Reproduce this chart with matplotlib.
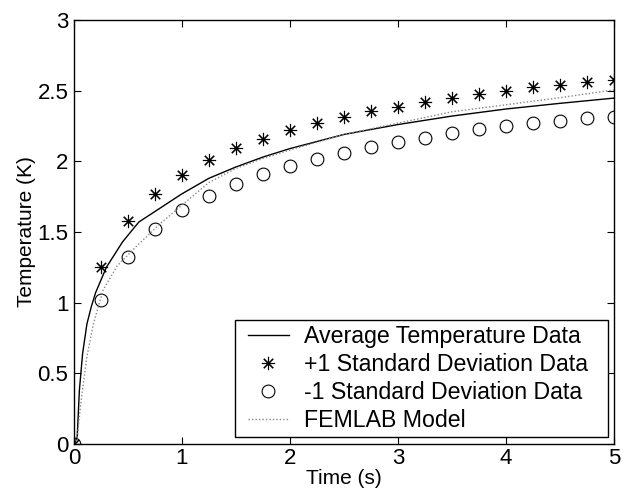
import numpy as np
import matplotlib.pyplot as plt
from matplotlib.lines import Line2D
from matplotlib.legend_handler import HandlerLine2D

plt.rcParams['font.family'] = ['Liberation Sans', 'DejaVu Sans']

# Messpunkte (Mittelwert +/- 1 Standardabweichung), alle 0.25 s
t_pts = [0, 0.25, 0.5, 0.75, 1.0, 1.25, 1.5, 1.75, 2.0, 2.25, 2.5,
         2.75, 3.0, 3.25, 3.5, 3.75, 4.0, 4.25, 4.5, 4.75, 5.0]
plus_sd = [0, 1.255, 1.578, 1.767, 1.904, 2.008, 2.092, 2.161, 2.220, 2.270, 2.316,
           2.357, 2.387, 2.423, 2.451, 2.475, 2.500, 2.524, 2.541, 2.564, 2.576]
minus_sd = [0, 1.019, 1.326, 1.519, 1.656, 1.755, 1.838, 1.909, 1.967, 2.016, 2.062,
            2.102, 2.135, 2.168, 2.199, 2.227, 2.251, 2.274, 2.288, 2.305, 2.316]

# Mittlere Temperatur (durchgezogene Linie)
t_avg = [0, 0.03, 0.05, 0.08, 0.12, 0.16, 0.2, 0.3, 0.45, 0.6, 0.8, 1.0,
         1.25, 1.5, 1.75, 2.0, 2.5, 3.0, 3.5, 4.0, 4.5, 5.0]
avg = [0, 0.05, 0.38, 0.64, 0.85, 0.97, 1.07, 1.25, 1.43, 1.57, 1.67, 1.77,
       1.88, 1.96, 2.03, 2.09, 2.19, 2.26, 2.32, 2.37, 2.41, 2.447]

# FEMLAB-Modell (gepunktet)
t_fem = [0, 0.03, 0.07, 0.12, 0.18, 0.27, 0.4, 0.58, 0.8, 1.0, 1.25, 1.5,
         1.75, 2.0, 2.5, 3.0, 3.5, 4.0, 4.5, 5.0]
fem = [0, 0.05, 0.33, 0.62, 0.85, 1.09, 1.26, 1.40, 1.56, 1.69, 1.85, 1.95,
       2.02, 2.08, 2.19, 2.27, 2.35, 2.40, 2.45, 2.505]

fig = plt.figure(figsize=(6.29, 4.96), dpi=100)
ax = fig.add_axes([0.1176, 0.1048, 0.8585, 0.855])

ax.plot(t_avg, avg, color="black", lw=1.0, label="Average Temperature Data")
ax.plot(t_pts, plus_sd, ls="none", marker=(8, 2, 0), ms=9.5, mec="black", mew=0.8,
        color="black", label="+1 Standard Deviation Data")
ax.plot(t_pts, minus_sd, ls="none", marker="o", ms=9.2, mfc="none", mec="black", mew=0.8,
        label="-1 Standard Deviation Data")
ax.plot(t_fem, fem, color="#888888", lw=1.0, ls=(0, (1, 1.5)), label="FEMLAB Model")

ax.set_xlim(0, 5)
ax.set_ylim(0, 3)
ax.set_xticks([0, 1, 2, 3, 4, 5])
ax.set_yticks([0, 0.5, 1, 1.5, 2, 2.5, 3])
ax.set_yticklabels(["0", "0.5", "1", "1.5", "2", "2.5", "3"])
ax.tick_params(direction="in", top=True, right=True, length=5, width=0.8,
               labelsize=16)
ax.tick_params(axis="x", pad=3)
ax.tick_params(axis="y", pad=4)
for s in ax.spines.values():
    s.set_linewidth(1.0)

ax.set_xlabel("Time (s)", fontsize=15, labelpad=0)
ax.set_ylabel("Temperature (K)", fontsize=15, labelpad=1)

leg = ax.legend(loc="lower left", bbox_to_anchor=(0.2981, 0.0165, 0.6907, 0.27),
                mode="expand", fontsize=16.7,
                frameon=True, fancybox=False, edgecolor="black", framealpha=1,
                handlelength=2.09, handletextpad=0.65, labelspacing=0.21,
                borderpad=0.22, borderaxespad=0,
                handler_map={Line2D: HandlerLine2D(xpad=0.36)})
leg.get_frame().set_linewidth(1.0)

fig.savefig("out.png", dpi=100)
